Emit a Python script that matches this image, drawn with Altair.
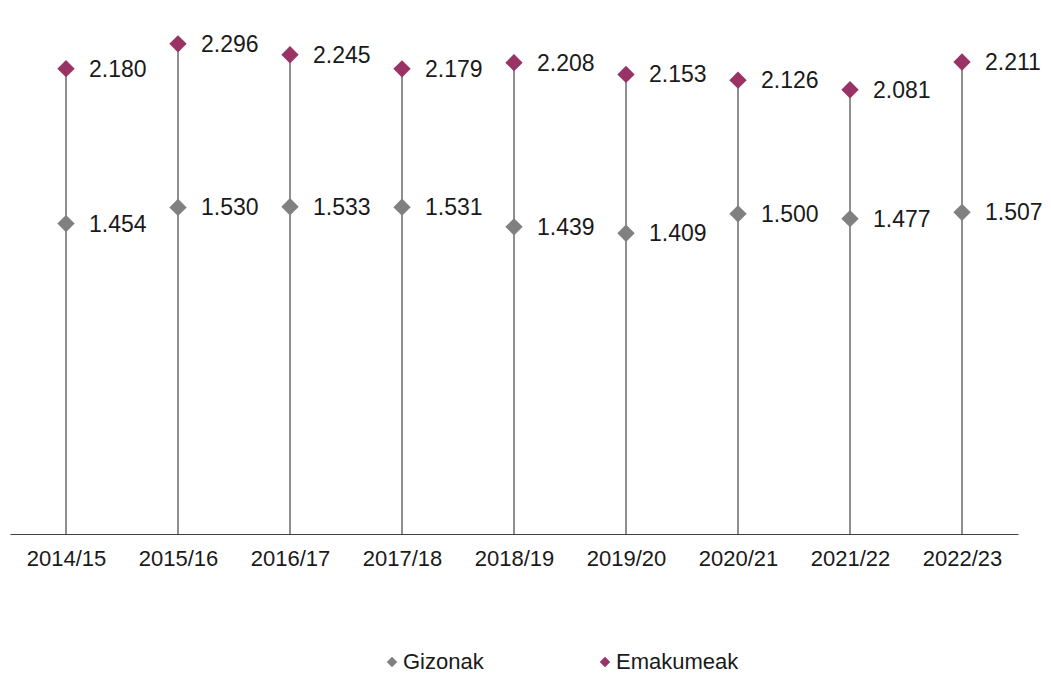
import altair as alt
import pandas as pd

years = ["2014/15", "2015/16", "2016/17", "2017/18", "2018/19",
         "2019/20", "2020/21", "2021/22", "2022/23"]
gizonak = [1.454, 1.530, 1.533, 1.531, 1.439, 1.409, 1.500, 1.477, 1.507]
emakumeak = [2.180, 2.296, 2.245, 2.179, 2.208, 2.153, 2.126, 2.081, 2.211]
series = ["Gizonak", "Emakumeak"]
colors = ["#808080", "#993366"]

wide = pd.DataFrame({"year": years, "Gizonak": gizonak, "Emakumeak": emakumeak})
long = pd.concat([
    pd.DataFrame({"year": years, "serie": "Gizonak", "v": gizonak}),
    pd.DataFrame({"year": years, "serie": "Emakumeak", "v": emakumeak}),
])
long["label"] = long["v"].map(lambda v: f"{v:.3f}")

font = "Liberation Sans"
x = alt.X("year:N", sort=years, title=None,
          scale=alt.Scale(type="point", padding=0.5),
          axis=alt.Axis(labelAngle=0, ticks=False, labelFontSize=22, labelFont=font,
                        labelColor="#1a1a1a", labelPadding=14, domainColor="#404040",
                        domainWidth=1.2, grid=False))
yscale = alt.Scale(domain=[0, 2.45], nice=False, zero=True)

rules = alt.Chart(wide).mark_rule(color="#333333", strokeWidth=1.1).encode(
    x=x,
    y=alt.Y("Emakumeak:Q", scale=yscale, axis=None),
    y2=alt.Y2(datum=0),
)

pts = alt.Chart(long).mark_point(shape="diamond", filled=True, size=300, opacity=1).encode(
    x=x,
    y=alt.Y("v:Q", scale=yscale, axis=None),
    color=alt.Color("serie:N", sort=series,
                    scale=alt.Scale(domain=series, range=colors),
                    legend=alt.Legend(title=None, orient="none", direction="horizontal",
                                      legendX=371, legendY=640, labelFontSize=22,
                                      labelFont=font, labelColor="#1a1a1a",
                                      symbolType="diamond", symbolSize=110,
                                      symbolOpacity=1, labelOffset=0,
                                      columnPadding=110)),
)

labels = alt.Chart(long).mark_text(align="left", baseline="middle", dx=23, dy=1,
                                   fontSize=23, font=font, color="#1a1a1a").encode(
    x=x,
    y=alt.Y("v:Q", scale=yscale, axis=None),
    text="label:N",
)

chart = (rules + pts + labels).properties(
    width=1008, height=523,
    autosize=alt.AutoSizeParams(type="none"),
    padding={"left": 2, "top": 3, "right": 24, "bottom": 141},
).configure(background="white").configure_view(stroke=None, strokeWidth=0)

chart.save("out.html", embed_options={"renderer": "svg", "actions": False})
